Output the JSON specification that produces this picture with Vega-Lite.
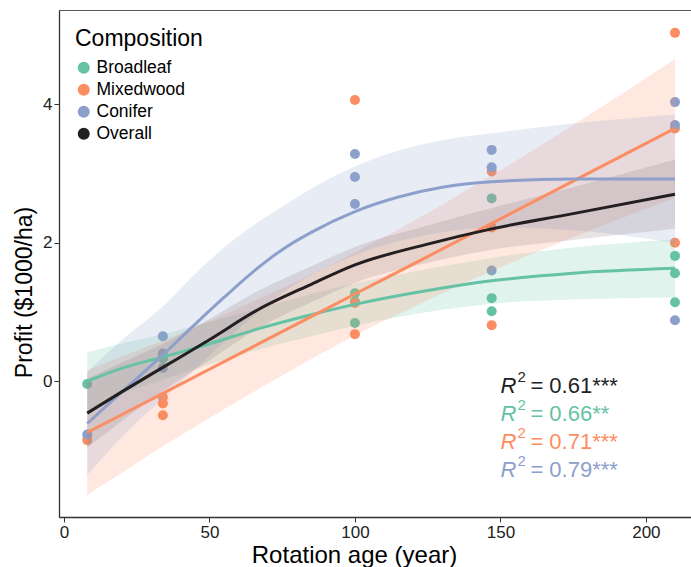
{
  "$schema": "https://vega.github.io/schema/vega-lite/v6.json",
  "width": 632,
  "height": 507,
  "autosize": {"type": "none"},
  "padding": {"left": 59, "top": 10, "right": 0, "bottom": 50},
  "background": "white",
  "config": {
    "font": "Liberation Sans",
    "view": {"stroke": "#555555", "strokeWidth": 1},
    "axis": {
      "grid": false,
      "domainColor": "#333333",
      "domainWidth": 1.3,
      "tickColor": "#333333",
      "tickSize": 5,
      "labelFontSize": 17,
      "labelColor": "#222222",
      "titleFontSize": 23,
      "titleFontWeight": "normal",
      "titleColor": "#000000"
    },
    "legend": {
      "orient": "none",
      "legendX": 16,
      "legendY": 18,
      "titleFontSize": 23,
      "titleFontWeight": "normal",
      "titleColor": "#000000",
      "labelFontSize": 17.5,
      "labelColor": "#000000",
      "labelOffset": 4,
      "symbolSize": 110,
      "symbolType": "circle",
      "rowPadding": 3,
      "titlePadding": 8
    }
  },
  "datasets": {
    "pts": [
      {"g": "Broadleaf", "x": 8, "y": -0.04},
      {"g": "Broadleaf", "x": 34, "y": 0.36},
      {"g": "Broadleaf", "x": 34, "y": 0.33},
      {"g": "Broadleaf", "x": 100, "y": 1.27},
      {"g": "Broadleaf", "x": 100, "y": 1.15},
      {"g": "Broadleaf", "x": 100, "y": 0.84},
      {"g": "Broadleaf", "x": 147, "y": 2.64},
      {"g": "Broadleaf", "x": 147, "y": 1.2},
      {"g": "Broadleaf", "x": 147, "y": 1.01},
      {"g": "Broadleaf", "x": 210, "y": 1.81},
      {"g": "Broadleaf", "x": 210, "y": 1.56},
      {"g": "Broadleaf", "x": 210, "y": 1.14},
      {"g": "Mixedwood", "x": 8, "y": -0.85},
      {"g": "Mixedwood", "x": 34, "y": -0.23},
      {"g": "Mixedwood", "x": 34, "y": -0.32},
      {"g": "Mixedwood", "x": 34, "y": -0.49},
      {"g": "Mixedwood", "x": 100, "y": 4.06},
      {"g": "Mixedwood", "x": 100, "y": 1.13},
      {"g": "Mixedwood", "x": 100, "y": 0.68},
      {"g": "Mixedwood", "x": 147, "y": 3.03},
      {"g": "Mixedwood", "x": 147, "y": 2.22},
      {"g": "Mixedwood", "x": 147, "y": 0.81},
      {"g": "Mixedwood", "x": 210, "y": 5.03},
      {"g": "Mixedwood", "x": 210, "y": 3.65},
      {"g": "Mixedwood", "x": 210, "y": 2.0},
      {"g": "Conifer", "x": 8, "y": -0.77},
      {"g": "Conifer", "x": 34, "y": 0.65},
      {"g": "Conifer", "x": 34, "y": 0.4},
      {"g": "Conifer", "x": 34, "y": 0.19},
      {"g": "Conifer", "x": 100, "y": 3.28},
      {"g": "Conifer", "x": 100, "y": 2.95},
      {"g": "Conifer", "x": 100, "y": 2.56},
      {"g": "Conifer", "x": 147, "y": 3.34},
      {"g": "Conifer", "x": 147, "y": 3.09},
      {"g": "Conifer", "x": 147, "y": 1.6},
      {"g": "Conifer", "x": 210, "y": 4.03},
      {"g": "Conifer", "x": 210, "y": 3.7},
      {"g": "Conifer", "x": 210, "y": 0.88}
    ],
    "fit": [
      {"g": "Broadleaf", "x": 8, "y": 0.0, "lo": -0.42, "hi": 0.42},
      {"g": "Broadleaf", "x": 20, "y": 0.19, "lo": -0.18, "hi": 0.55},
      {"g": "Broadleaf", "x": 34, "y": 0.35, "lo": 0.02, "hi": 0.68},
      {"g": "Broadleaf", "x": 50, "y": 0.54, "lo": 0.24, "hi": 0.86},
      {"g": "Broadleaf", "x": 67, "y": 0.76, "lo": 0.46, "hi": 1.05},
      {"g": "Broadleaf", "x": 85, "y": 0.96, "lo": 0.65, "hi": 1.26},
      {"g": "Broadleaf", "x": 100, "y": 1.11, "lo": 0.8, "hi": 1.41},
      {"g": "Broadleaf", "x": 125, "y": 1.31, "lo": 1.0, "hi": 1.62},
      {"g": "Broadleaf", "x": 147, "y": 1.45, "lo": 1.12, "hi": 1.78},
      {"g": "Broadleaf", "x": 175, "y": 1.56, "lo": 1.18, "hi": 1.93},
      {"g": "Broadleaf", "x": 210, "y": 1.63, "lo": 1.21, "hi": 2.05},
      {"g": "Mixedwood", "x": 8, "y": -0.74, "lo": -1.64, "hi": 0.16},
      {"g": "Mixedwood", "x": 20, "y": -0.48, "lo": -1.32, "hi": 0.36},
      {"g": "Mixedwood", "x": 34, "y": -0.175, "lo": -0.94, "hi": 0.59},
      {"g": "Mixedwood", "x": 50, "y": 0.173, "lo": -0.53, "hi": 0.87},
      {"g": "Mixedwood", "x": 67, "y": 0.542, "lo": -0.11, "hi": 1.19},
      {"g": "Mixedwood", "x": 85, "y": 0.933, "lo": 0.32, "hi": 1.54},
      {"g": "Mixedwood", "x": 100, "y": 1.26, "lo": 0.66, "hi": 1.86},
      {"g": "Mixedwood", "x": 125, "y": 1.8, "lo": 1.17, "hi": 2.43},
      {"g": "Mixedwood", "x": 147, "y": 2.28, "lo": 1.59, "hi": 2.97},
      {"g": "Mixedwood", "x": 175, "y": 2.89, "lo": 2.08, "hi": 3.7},
      {"g": "Mixedwood", "x": 210, "y": 3.65, "lo": 2.65, "hi": 4.65},
      {"g": "Conifer", "x": 8, "y": -0.61, "lo": -1.35, "hi": 0.13},
      {"g": "Conifer", "x": 20, "y": -0.15, "lo": -0.8, "hi": 0.6},
      {"g": "Conifer", "x": 34, "y": 0.38, "lo": -0.25, "hi": 1.08},
      {"g": "Conifer", "x": 45, "y": 0.82, "lo": 0.17, "hi": 1.55},
      {"g": "Conifer", "x": 55, "y": 1.21, "lo": 0.57, "hi": 1.93},
      {"g": "Conifer", "x": 65, "y": 1.58, "lo": 0.93, "hi": 2.25},
      {"g": "Conifer", "x": 75, "y": 1.9, "lo": 1.27, "hi": 2.52},
      {"g": "Conifer", "x": 85, "y": 2.15, "lo": 1.53, "hi": 2.78},
      {"g": "Conifer", "x": 100, "y": 2.45, "lo": 1.82, "hi": 3.1},
      {"g": "Conifer", "x": 115, "y": 2.66, "lo": 2.02, "hi": 3.33},
      {"g": "Conifer", "x": 130, "y": 2.8, "lo": 2.15, "hi": 3.48},
      {"g": "Conifer", "x": 147, "y": 2.88, "lo": 2.22, "hi": 3.58},
      {"g": "Conifer", "x": 175, "y": 2.92, "lo": 2.18, "hi": 3.72},
      {"g": "Conifer", "x": 210, "y": 2.92, "lo": 2.0, "hi": 3.85},
      {"g": "Overall", "x": 8, "y": -0.46, "lo": -0.96, "hi": 0.04},
      {"g": "Overall", "x": 20, "y": -0.15, "lo": -0.57, "hi": 0.27},
      {"g": "Overall", "x": 34, "y": 0.2, "lo": -0.14, "hi": 0.54},
      {"g": "Overall", "x": 50, "y": 0.6, "lo": 0.3, "hi": 0.9},
      {"g": "Overall", "x": 67, "y": 1.04, "lo": 0.77, "hi": 1.31},
      {"g": "Overall", "x": 85, "y": 1.4, "lo": 1.14, "hi": 1.66},
      {"g": "Overall", "x": 100, "y": 1.68, "lo": 1.42, "hi": 1.94},
      {"g": "Overall", "x": 125, "y": 1.98, "lo": 1.71, "hi": 2.25},
      {"g": "Overall", "x": 147, "y": 2.2, "lo": 1.9, "hi": 2.5},
      {"g": "Overall", "x": 175, "y": 2.42, "lo": 2.04, "hi": 2.8},
      {"g": "Overall", "x": 210, "y": 2.7, "lo": 2.2, "hi": 3.2}
    ],
    "r2": [
      {"g": "Overall", "lab": "= 0.61***", "x": 150, "y": -0.173},
      {"g": "Broadleaf", "lab": "= 0.66**", "x": 150, "y": -0.578},
      {"g": "Mixedwood", "lab": "= 0.71***", "x": 150, "y": -0.982},
      {"g": "Conifer", "lab": "= 0.79***", "x": 150, "y": -1.386}
    ]
  },
  "encoding": {
    "x": {
      "field": "x",
      "type": "quantitative",
      "scale": {"domain": [-1.7, 215.5], "nice": false, "zero": false},
      "axis": {"values": [0, 50, 100, 150, 200], "title": "Rotation age (year)", "titlePadding": 3, "titleX": 295, "titleFontSize": 24}
    }
  },
  "layer": [
    {
      "data": {"name": "pts"},
      "mark": {"type": "circle", "size": 100, "opacity": 1},
      "encoding": {
        "y": {
          "field": "y",
          "type": "quantitative",
          "scale": {"domain": [-1.96, 5.36], "nice": false, "zero": false},
          "axis": {"values": [0, 2, 4], "format": "d", "title": "Profit ($1000/ha)", "titlePadding": 6, "titleY": 282}
        },
        "color": {
          "field": "g",
          "type": "nominal",
          "scale": {"domain": ["Broadleaf", "Mixedwood", "Conifer", "Overall"], "range": ["#66c2a5", "#fc8d62", "#8da0cb", "#222222"]},
          "legend": {"title": "Composition"}
        }
      }
    },
    {
      "data": {"name": "fit"},
      "mark": {"type": "area", "opacity": 0.2, "interpolate": "monotone"},
      "encoding": {
        "y": {"field": "lo", "type": "quantitative"},
        "y2": {"field": "hi"},
        "fill": {
          "field": "g",
          "type": "nominal",
          "scale": {"domain": ["Broadleaf", "Mixedwood", "Conifer", "Overall"], "range": ["#66c2a5", "#fc8d62", "#8da0cb", "#8a7a78"]},
          "legend": null
        }
      }
    },
    {
      "data": {"name": "fit"},
      "mark": {"type": "line", "strokeWidth": 3, "interpolate": "monotone"},
      "encoding": {
        "y": {"field": "y", "type": "quantitative"},
        "stroke": {
          "field": "g",
          "type": "nominal",
          "scale": {"domain": ["Broadleaf", "Mixedwood", "Conifer", "Overall"], "range": ["#66c2a5", "#fc8d62", "#8da0cb", "#231f20"]},
          "legend": null
        }
      }
    },
    {
      "data": {"name": "r2"},
      "mark": {"type": "text", "text": "R", "fontStyle": "italic", "fontSize": 22, "align": "left", "baseline": "alphabetic"},
      "encoding": {
        "y": {"field": "y", "type": "quantitative"},
        "color": {"field": "g", "type": "nominal", "legend": null}
      }
    },
    {
      "data": {"name": "r2"},
      "mark": {"type": "text", "text": "2", "fontSize": 15, "align": "left", "baseline": "alphabetic", "dx": 17, "dy": -11},
      "encoding": {
        "y": {"field": "y", "type": "quantitative"},
        "color": {"field": "g", "type": "nominal", "legend": null}
      }
    },
    {
      "data": {"name": "r2"},
      "mark": {"type": "text", "fontSize": 22, "align": "left", "baseline": "alphabetic", "dx": 30},
      "encoding": {
        "y": {"field": "y", "type": "quantitative"},
        "text": {"field": "lab"},
        "color": {"field": "g", "type": "nominal", "legend": null}
      }
    }
  ]
}
